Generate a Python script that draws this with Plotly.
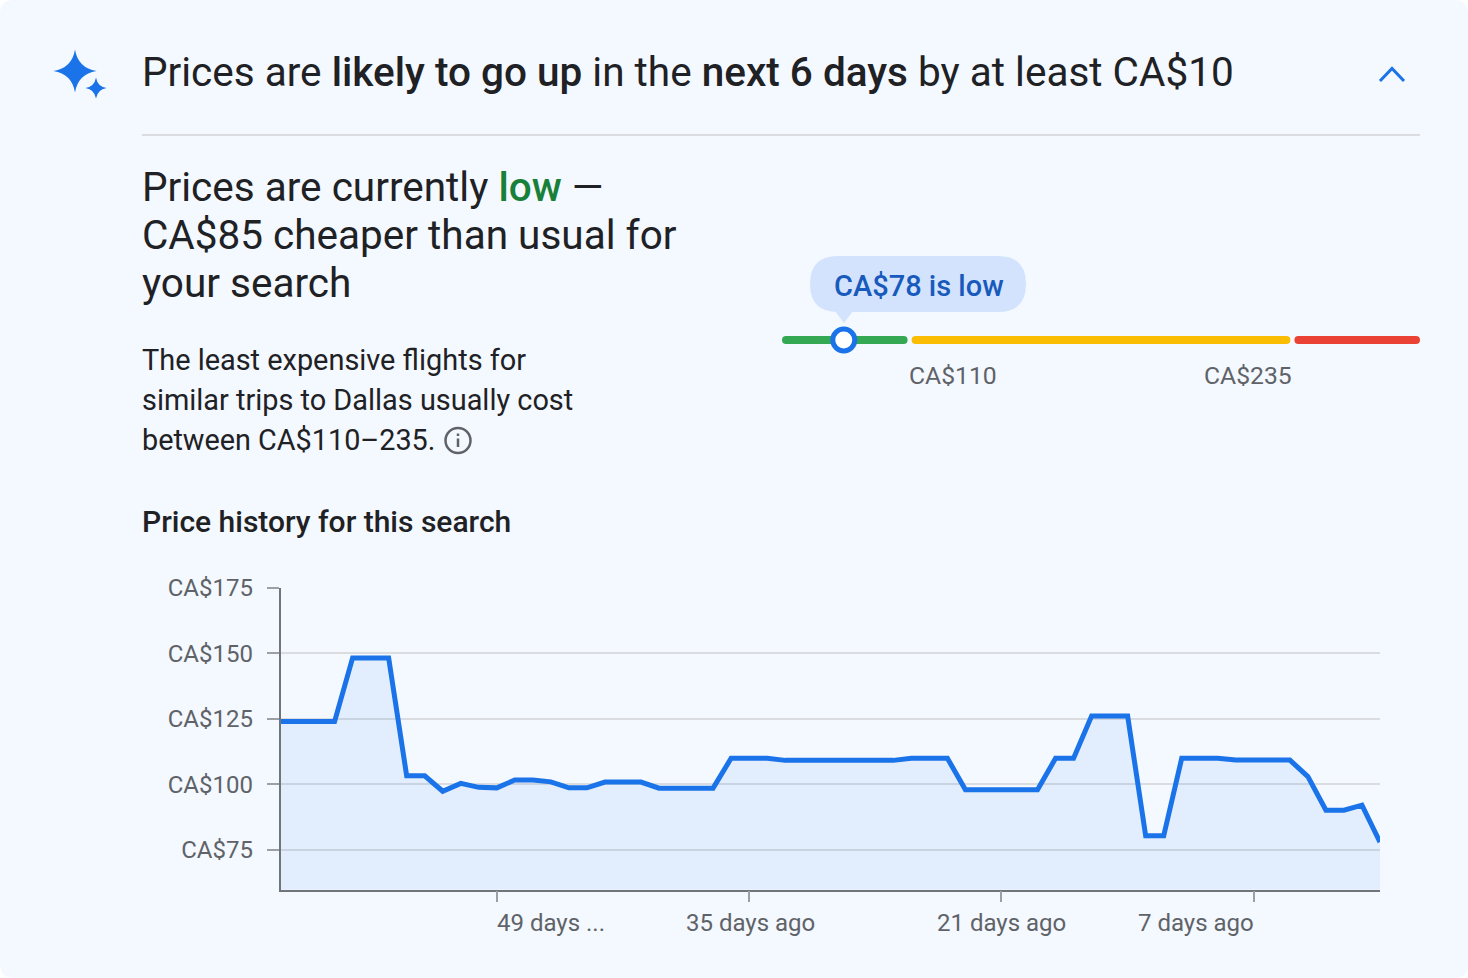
# Price insights card: gauge plus price history area chart
import plotly.graph_objects as go

WIDTH = 1468
HEIGHT = 978

# price history, one value per day, oldest first
days_ago = list(range(-61, 1))
prices = [
    124, 124, 124, 124, 148.3, 148.3, 148.3, 103.3, 103.3, 97.4,
    100.4, 98.9, 98.7, 101.7, 101.7, 101, 98.7, 98.7, 100.9, 100.9,
    100.9, 98.6, 98.6, 98.6, 98.6, 110, 110, 110, 109.2, 109.2,
    109.2, 109.2, 109.2, 109.2, 109.2, 110, 110, 110, 98, 98,
    98, 98, 98, 110, 110, 126.1, 126.1, 126.1, 80.4, 80.4,
    110, 110, 110, 109.3, 109.3, 109.3, 109.3, 103, 90.2, 90.2,
    92.1, 78,
]
y_ticks = [75, 100, 125, 150, 175]
y_labels = ["CA$75", "CA$100", "CA$125", "CA$150", "CA$175"]
x_ticks = [-49, -35, -21, -7]
x_labels = ["49 days ...", "35 days ago", "21 days ago", "7 days ago"]
x_anchors = ["left", "center", "center", "right"]
x_nudges = [-1, 1.5, 0.5, 1.5]

# gauge: low / typical / high zones, in gauge units (not linear in price)
gauge_edges = [0, 1, 4, 5]
gauge_colors = ["#34a853", "#fbbc04", "#ea4335"]
gauge_now = 0.484

BG = "#f4f8ff"
BLUE = "#1a73e8"
DARK = "#202124"
GREY = "#5f6368"
FONT = "Roboto"


def px(x):
    return x / WIDTH


def py(y):
    return 1 - y / HEIGHT


def sparkle(cx, cy, r):
    k = r * 0.14
    pts = [
        (cx, cy - r), (cx + k, cy - k), (cx + r, cy), (cx + k, cy + k),
        (cx, cy + r), (cx - k, cy + k), (cx - r, cy), (cx - k, cy - k),
    ]
    p = [f"{px(a):.5f},{py(b):.5f}" for a, b in pts]
    return f"M{p[0]} Q{p[1]} {p[2]} Q{p[3]} {p[4]} Q{p[5]} {p[6]} Q{p[7]} {p[0]} Z"


def round_rect(x0, y0, x1, y1, r):
    def c(a, b):
        return f"{px(a):.5f},{py(b):.5f}"
    return (
        f"M{c(x0 + r, y0)} L{c(x1 - r, y0)} Q{c(x1, y0)} {c(x1, y0 + r)} "
        f"L{c(x1, y1 - r)} Q{c(x1, y1)} {c(x1 - r, y1)} "
        f"L{c(x0 + r, y1)} Q{c(x0, y1)} {c(x0, y1 - r)} "
        f"L{c(x0, y0 + r)} Q{c(x0, y0)} {c(x0 + r, y0)} Z"
    )


def poly(points, close=False):
    s = "M" + " L".join(f"{px(a):.5f},{py(b):.5f}" for a, b in points)
    return s + (" Z" if close else "")


def medium(text):
    return f'<span style="font-weight:500">{text}</span>'


fig = go.Figure()

# ── price history ──
fig.add_trace(go.Scatter(
    x=days_ago, y=prices, mode="lines",
    line=dict(color=BLUE, width=5, simplify=False),
    fill="tozeroy", fillcolor="rgba(26,115,232,0.08)",
    hoverinfo="skip", showlegend=False,
))

# ── gauge ──
gap = 4 / 127.6
bases, lengths = [], []
for i in range(3):
    start = gauge_edges[i] + (gap / 2 if i > 0 else 0)
    end = gauge_edges[i + 1] - (gap / 2 if i < 2 else 0)
    bases.append(start)
    lengths.append(end - start)

fig.add_trace(go.Bar(
    x=lengths, y=[0, 0, 0], base=bases, orientation="h", width=0.8,
    marker=dict(color=gauge_colors, cornerradius=4, line_width=0),
    xaxis="x2", yaxis="y2", hoverinfo="skip", showlegend=False,
))
fig.add_trace(go.Scatter(
    x=[gauge_now], y=[0], mode="markers",
    marker=dict(size=22, color="white", line=dict(color=BLUE, width=5)),
    xaxis="x2", yaxis="y2", cliponaxis=False, hoverinfo="skip", showlegend=False,
))

shapes = [
    # card
    dict(type="path", xref="paper", yref="paper", layer="below",
         path=round_rect(0, 0, WIDTH, HEIGHT, 14), fillcolor=BG, line_width=0),
    # sparkles
    dict(type="path", xref="paper", yref="paper", path=sparkle(75, 71, 21.5),
         fillcolor=BLUE, line_width=0),
    dict(type="path", xref="paper", yref="paper", path=sparkle(96, 88, 10.5),
         fillcolor=BLUE, line_width=0),
    # chevron
    dict(type="path", xref="paper", yref="paper",
         path=poly([(1380, 81), (1392, 68.5), (1404, 81)]),
         line=dict(color=BLUE, width=3)),
    # divider
    dict(type="line", xref="paper", yref="paper", x0=px(142), x1=px(1420),
         y0=py(135), y1=py(135), line=dict(color="#dadce0", width=2)),
    # callout
    dict(type="path", xref="paper", yref="paper",
         path=round_rect(810, 256, 1026, 312, 28), fillcolor="#d3e3fd", line_width=0),
    dict(type="path", xref="paper", yref="paper",
         path=poly([(835, 311), (853, 311), (844, 323)], close=True),
         fillcolor="#d3e3fd", line_width=0),
    # info icon
    dict(type="circle", xref="paper", yref="paper", x0=px(445.5), x1=px(470.5),
         y0=py(453), y1=py(428), line=dict(color=GREY, width=2.5)),
    dict(type="line", xref="paper", yref="paper", x0=px(458), x1=px(458),
         y0=py(438.5), y1=py(447), line=dict(color=GREY, width=2.5)),
    dict(type="line", xref="paper", yref="paper", x0=px(458), x1=px(458),
         y0=py(433.5), y1=py(436), line=dict(color=GREY, width=2.5)),
]

headline = (
    "Prices are " + medium("likely to go up") + " in the "
    + medium("next 6 days") + " by at least CA$10"
)
low_word = '<span style="color:#188038;font-weight:500">low</span>'

texts = [
    (140.5, 72, headline, 40.5, DARK, "left"),
    (140.5, 187, f"Prices are currently {low_word} —", 40.5, DARK, "left"),
    (140.5, 235, "CA$85 cheaper than usual for", 40.5, DARK, "left"),
    (140.5, 283, "your search", 40.5, DARK, "left"),
    (141, 360, "The least expensive flights for", 28.9, DARK, "left"),
    (141, 400, "similar trips to Dallas usually cost", 28.9, DARK, "left"),
    (141, 440, "between CA$110–235.", 28.8, DARK, "left"),
    (141, 521, medium("Price history for this search"), 30, DARK, "left"),
    (833, 286, medium("CA$78 is low"), 29, "#185abc", "left"),
    (908, 375, "CA$110", 24.7, GREY, "left"),
    (1293, 375, "CA$235", 24.7, GREY, "right"),
]

annotations = [
    dict(x=px(x), y=py(y), xref="paper", yref="paper", text=t, showarrow=False,
         xanchor=a, yanchor="middle", align=a, borderpad=0,
         font=dict(family=FONT, size=s, color=c))
    for x, y, t, s, c, a in texts
]
# day labels sit at their ticks but are not all centred
for tick, label, anchor, nudge in zip(x_ticks, x_labels, x_anchors, x_nudges):
    annotations.append(dict(
        x=tick, y=0, xref="x", yref="paper", yshift=py(923) * HEIGHT, xshift=nudge,
        text=label, showarrow=False, xanchor=anchor, yanchor="middle", borderpad=0,
        font=dict(family=FONT, size=24, color=GREY),
    ))

fig.update_layout(
    width=WIDTH, height=HEIGHT,
    margin=dict(l=0, r=0, t=0, b=0),
    paper_bgcolor="white", plot_bgcolor=BG,
    hovermode=False, showlegend=False,
    font=dict(family=FONT, color=GREY),
    shapes=shapes, annotations=annotations,
    xaxis=dict(
        domain=[px(280.5), px(1380)], range=[-61, 0], automargin=False,
        tickmode="array", tickvals=x_ticks, ticktext=[""] * len(x_ticks),
        ticks="outside", ticklen=11, tickwidth=2, tickcolor="#9aa0a6",
        showgrid=False, zeroline=False,
        showline=True, linecolor="#70757a", linewidth=1.5,
    ),
    yaxis=dict(
        domain=[py(889.5), py(588)], range=[59.9, 175], automargin=False,
        tickmode="array", tickvals=y_ticks, ticktext=y_labels,
        ticks="outside", ticklen=12, tickwidth=2, tickcolor="#9aa0a6",
        ticklabelstandoff=9, tickfont=dict(family=FONT, size=24, color=GREY),
        showgrid=True, gridcolor="#dadce0", gridwidth=2, zeroline=False,
        showline=True, linecolor="#70757a", linewidth=1.5,
    ),
    xaxis2=dict(domain=[px(782), px(1420)], range=[gauge_edges[0], gauge_edges[-1]],
                anchor="y2", visible=False, automargin=False),
    yaxis2=dict(domain=[py(350), py(330)], range=[-1, 1], anchor="x2", visible=False,
                automargin=False),
)

fig.write_html("out.html", config=dict(displayModeBar=False),
               post_script="document.body.style.margin='0';")
